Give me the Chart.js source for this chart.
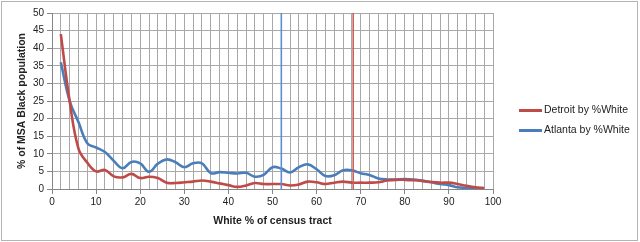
<!DOCTYPE html>
<html>
<head>
<meta charset="utf-8">
<script src="https://cdn.jsdelivr.net/npm/chart.js@4/dist/chart.umd.min.js"></script>
<style>
  html, body { margin: 0; padding: 0; background: #fff; }
  #wrap { position: relative; width: 640px; height: 242px; }
  #frame { position: absolute; left: 1px; top: 1px; width: 635px; height: 238px; border: 1px solid #b4b4b4; box-sizing: content-box; pointer-events: none; }
  .leg { position: absolute; left: 519px; font: 10.5px "Liberation Sans", Arial, sans-serif; color: #222; white-space: nowrap; }
  .leg i { display: inline-block; width: 23px; height: 3px; vertical-align: middle; margin-right: 2px; }
</style>
</head>
<body>
<div id="wrap">
  <canvas id="c" width="640" height="242"></canvas>
  <div id="frame"></div>
  <div class="leg" style="top:103px"><i style="background:#BE4B48"></i>Detroit by %White</div>
  <div class="leg" style="top:123px"><i style="background:#4A7EBB"></i>Atlanta by %White</div>
</div>
<script>
// x: white share of the census tract (%)
const whitePct = [2, 4, 6, 8, 10, 12, 14, 16, 18, 20, 22, 24, 26, 28, 30, 32, 34, 36, 38, 40,
  42, 44, 46, 48, 50, 52, 54, 56, 58, 60, 62, 64, 66, 68, 70, 72, 74, 76, 78, 80,
  82, 84, 86, 88, 90, 92, 94, 96, 98];

// y: share of the MSA black population (%)
const detroit = [44, 25, 11.5, 7.5, 5, 5.4, 3.6, 3.3, 4.3, 3.1, 3.5, 3.1, 1.8, 1.7, 1.9, 2.1, 2.4, 2.1, 1.6, 1.1,
  0.6, 1.0, 1.7, 1.4, 1.4, 1.4, 1.0, 1.3, 2.1, 1.9, 1.4, 1.8, 2.1, 1.8, 1.8, 1.8, 1.9, 2.4, 2.6, 2.6,
  2.5, 2.3, 2.0, 1.8, 1.8, 1.4, 0.9, 0.5, 0.3];
const atlanta = [36, 25, 19, 13, 11.8, 10.5, 8, 5.9, 7.7, 7.3, 4.9, 7.2, 8.4, 7.6, 6.2, 7.3, 7.3, 4.5, 4.8, 4.6,
  4.4, 4.6, 3.5, 4.0, 6.2, 5.8, 4.7, 6.2, 7.0, 5.6, 3.7, 3.9, 5.3, 5.3, 4.5, 4.0, 3.0, 2.7, 2.7, 2.8,
  2.7, 2.3, 1.9, 1.4, 1.1, 0.5, 0.3, 0.2, 0.2];

// median markers (vertical lines)
const atlantaMark = 52;
const detroitMark = 68.3;

const RED = '#BE4B48';
const BLUE = '#4A7EBB';
const GRID = '#a8a8a8';
const FONT = { family: '"Liberation Sans", Arial, sans-serif', size: 10 };
const TITLE_FONT = { family: '"Liberation Sans", Arial, sans-serif', size: 10.5, weight: 'bold' };

const pts = (ys) => whitePct.map((x, i) => ({ x, y: ys[i] }));
const vline = (x) => [{ x, y: 0 }, { x, y: 50 }];

new Chart(document.getElementById('c'), {
  type: 'line',
  data: {
    datasets: [
      { label: 'atl-mark', data: vline(atlantaMark), borderColor: '#5B8FCF', borderWidth: 1.6, pointRadius: 0, tension: 0 },
      { label: 'det-mark', data: vline(detroitMark), borderColor: '#C9605C', borderWidth: 1.6, pointRadius: 0, tension: 0 },
      { label: 'Detroit by %White', data: pts(detroit), borderColor: RED, borderWidth: 2.6, pointRadius: 0, tension: 0.4 },
      { label: 'Atlanta by %White', data: pts(atlanta), borderColor: BLUE, borderWidth: 2.6, pointRadius: 0, tension: 0.4 },
    ],
  },
  options: {
    responsive: false,
    animation: false,
    devicePixelRatio: 1,
    layout: { padding: { top: 13, right: 147, left: 0, bottom: 0 } },
    plugins: { legend: { display: false }, tooltip: { enabled: false } },
    scales: {
      x: {
        type: 'linear', min: 0, max: 100,
        afterFit: (s) => { s.height = 53; },
        ticks: {
          stepSize: 2, autoSkip: false, maxRotation: 0, padding: 2, color: '#222', font: FONT,
          callback: (v) => (v % 10 === 0 ? v : ''),
        },
        grid: {
          color: GRID, tickLength: 5,
          tickColor: (ctx) => (ctx.tick && ctx.tick.value % 10 === 0 ? '#868686' : 'transparent'),
        },
        border: { color: '#868686' },
        title: { display: true, text: 'White % of census tract', color: '#222', font: TITLE_FONT, padding: { top: 4, bottom: 15 } },
      },
      y: {
        min: 0, max: 50,
        afterFit: (s) => { s.width = 52; },
        ticks: { stepSize: 5, padding: 3, color: '#222', font: FONT },
        grid: { color: GRID, tickLength: 5, tickColor: '#868686' },
        border: { color: '#868686' },
        title: { display: true, text: '% of MSA Black population', color: '#222', font: TITLE_FONT, padding: { top: 16, bottom: 0 } },
      },
    },
  },
});
</script>
</body>
</html>
